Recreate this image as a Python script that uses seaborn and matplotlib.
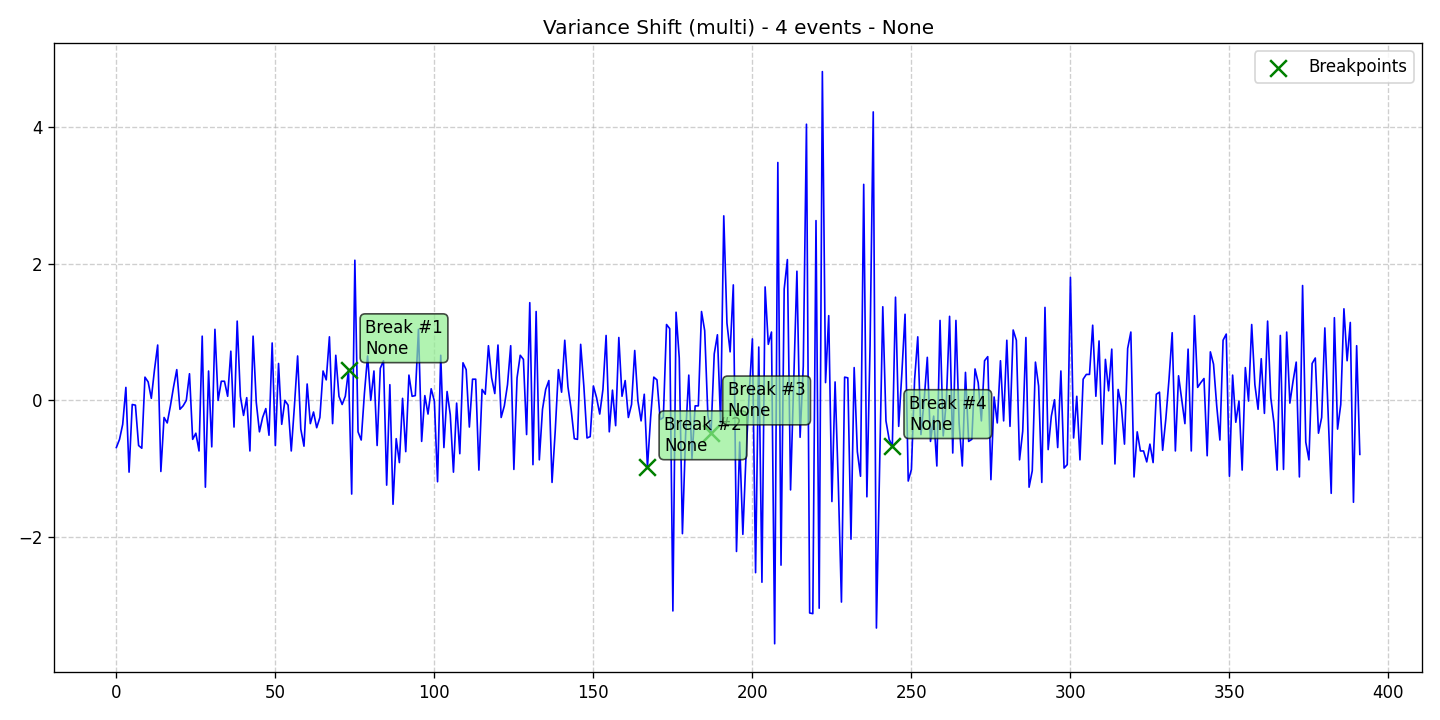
import numpy as np
import matplotlib
matplotlib.use("Agg")
import matplotlib.pyplot as plt
import seaborn as sns

# ---- data ----
signal = [
    -0.69, -0.57, -0.35, 0.19, -1.05, -0.06, -0.07, -0.66, -0.70, 0.34,
    0.27, 0.03, 0.45, 0.81, -1.04, -0.25, -0.33, -0.08, 0.20, 0.45,
    -0.13, -0.08, 0.00, 0.39, -0.57, -0.48, -0.74, 0.94, -1.27, 0.43,
    -0.68, 1.04, 0.00, 0.28, 0.28, 0.06, 0.72, -0.39, 1.16, 0.06,
    -0.22, 0.04, -0.74, 0.94, -0.03, -0.46, -0.25, -0.12, -0.51, 0.84,
    -0.66, 0.54, -0.35, 0.00, -0.07, -0.74, -0.08, 0.65, -0.42, -0.67,
    0.24, -0.34, -0.17, -0.40, -0.25, 0.43, 0.30, 0.93, -0.34, 0.66,
    0.06, -0.06, 0.06, 0.44, -1.37, 2.05, -0.46, -0.58, 0.10, 0.65,
    0.00, 0.43, -0.66, 0.47, 0.58, -1.24, 0.23, -1.52, -0.56, -0.91,
    0.03, -0.75, 0.37, 0.06, 0.07, 1.04, -0.60, 0.07, -0.20, 0.17,
    -0.01, -1.19, 0.66, -0.69, 0.13, -0.21, -1.05, -0.04, -0.78, 0.55,
    0.45, -0.39, 0.31, 0.31, -1.02, 0.16, 0.09, 0.80, 0.33, 0.10,
    0.81, -0.25, -0.08, 0.23, 0.80, -1.01, 0.33, 0.66, 0.60, -0.50,
    1.43, -0.94, 1.30, -0.87, -0.13, 0.16, 0.29, -1.20, -0.45, 0.45,
    0.12, 0.88, 0.20, -0.13, -0.56, -0.57, 0.82, 0.21, -0.55, -0.53,
    0.21, 0.04, -0.20, 0.16, 0.95, -0.46, 0.15, -0.37, 0.92, 0.06,
    0.29, -0.25, -0.06, 0.73, -0.01, -0.30, 0.09, -0.98, -0.25, 0.34,
    0.30, -0.28, -0.25, 1.11, 1.05, -3.08, 1.29, 0.62, -1.95, -0.50,
    0.37, -0.85, -0.08, -0.08, 1.30, 1.02, -0.22, -0.47, 0.68, 0.96,
    -0.33, 2.70, 1.13, 0.71, 1.69, -2.21, -0.61, -1.96, -0.80, 0.10,
    0.90, -2.52, 0.78, -2.66, 1.66, 0.82, 1.00, -3.56, 3.48, -2.41,
    1.63, 2.06, -1.31, 0.30, 1.89, -0.54, 0.50, 4.04, -3.11, -3.12,
    2.63, -3.04, 4.81, 0.26, 1.24, -1.48, 0.27, -1.20, -2.95, 0.34,
    0.33, -2.03, 0.48, -0.75, -1.11, 3.16, -1.41, 0.80, 4.22, -3.33,
    -1.00, 1.37, -0.30, -0.57, -0.67, 1.51, -0.38, 0.40, 1.26, -1.18,
    -1.01, 0.30, 0.93, -0.50, 0.00, 0.63, -0.60, -0.23, -0.96, 1.17,
    -0.52, 0.00, 1.23, -0.77, 1.17, -0.33, -0.96, 0.41, -0.60, -0.57,
    0.46, 0.26, -0.30, 0.58, 0.64, -1.16, 0.05, -0.33, 0.58, -0.30,
    0.88, -0.38, 1.03, 0.88, -0.87, -0.45, 0.92, -1.27, -1.03, 0.56,
    0.21, -1.20, 1.36, -0.72, -0.23, 0.01, -0.69, 0.43, -0.99, -0.94,
    1.80, -0.55, 0.06, -0.87, 0.31, 0.38, 0.38, 1.10, 0.06, 0.87,
    -0.64, 0.60, 0.14, 0.75, -0.93, 0.16, -0.08, -0.64, 0.76, 1.00,
    -1.12, -0.46, -0.74, -0.74, -0.90, -0.64, -0.91, 0.09, 0.12, -0.73,
    -0.27, 0.31, 0.99, -0.74, 0.36, 0.01, -0.34, 0.75, -0.74, 1.24,
    0.19, 0.26, 0.32, -0.81, 0.71, 0.53, -0.08, -0.58, 0.88, 0.97,
    -1.11, 0.37, -0.32, -0.01, -1.02, 0.48, -0.01, 1.11, 0.23, -0.13,
    0.61, -0.19, 1.16, 0.04, -0.33, -1.02, 0.95, -1.01, 1.00, -0.04,
    0.28, 0.56, -1.12, 1.68, -0.61, -0.87, 0.54, 0.62, -0.48, -0.25,
    1.06, -0.13, -1.36, 1.21, -0.42, -0.06, 1.34, 0.58, 1.14, -1.49,
    0.80, -0.79,
]
break_idx = [73, 167, 187, 244]
break_dates = ["None", "None", "None", "None"]
title = "Variance Shift (multi) - 4 events - None"

time = np.arange(len(signal))
signal = np.array(signal)
break_vals = signal[break_idx]

# ---- plot ----
fig, ax = plt.subplots(figsize=(12, 6), dpi=120)

sns.lineplot(x=time, y=signal, color="blue", linewidth=1, ax=ax)
sns.scatterplot(x=break_idx, y=break_vals, marker="x", color="green",
                s=100, linewidth=1.5, label="Breakpoints", ax=ax, zorder=5)

for k, (bx, by) in enumerate(zip(break_idx, break_vals)):
    ax.annotate(f"Break #{k + 1}\n{break_dates[k]}", xy=(bx, by),
                xytext=(10, 10), textcoords="offset points",
                bbox=dict(boxstyle="round,pad=0.3", fc="lightgreen",
                          ec="black", alpha=0.7), zorder=6)

ax.set_title(title)
ax.grid(True, linestyle="--", alpha=0.6)
ax.legend(loc="upper right")

plt.tight_layout()
fig.savefig("out.png", dpi=120)
